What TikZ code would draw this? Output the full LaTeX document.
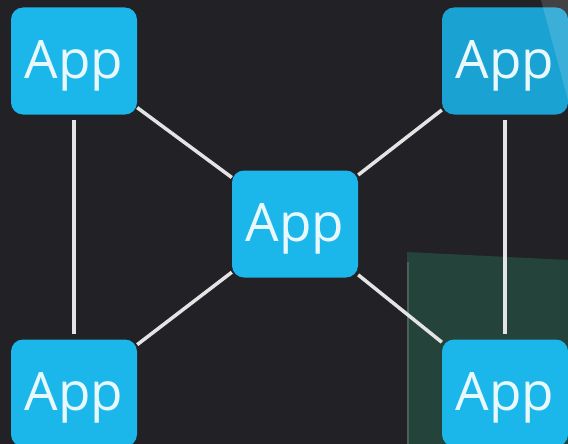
\documentclass[tikz,border=0pt]{standalone}
\usepackage{fontspec}
\setmainfont{Open Sans}
\usepackage{tikz}
\usepackage{xcolor}
\definecolor{bgdark}{HTML}{222125}
\definecolor{appblue}{HTML}{1BB7EB}
\definecolor{appdim}{HTML}{1AA2D3}
\definecolor{linkgray}{HTML}{E4E4E4}
\definecolor{panelgreen}{HTML}{24433A}

\begin{document}
\begin{tikzpicture}[x=1pt,y=-1pt,
  app/.style={rounded corners=12pt,fill=appblue,text=white!90!appblue,
    minimum width=126pt,minimum height=107pt,inner sep=0pt,
    font=\fontsize{53}{60}\selectfont,text height=38pt,text depth=3pt},
  link/.style={draw=linkgray,line width=3.5pt}]
\useasboundingbox (0,0) rectangle (568,444);
\clip (0,0) rectangle (568,444);
\fill[bgdark] (0,0) rectangle (568,444);
% faint panel behind the right column
\fill[panelgreen] (407,252) -- (568,260) -- (568,444) -- (407,444) -- cycle;
\draw[gray!45!panelgreen,line width=2pt] (408,262) -- (408,444);

\node[app] (tl) at (74,61) {App};
\node[app,fill=appdim] (tr) at (505,61) {App};
\node[app] (c) at (295,224) {App};
\node[app] (bl) at (74,393) {App};
\node[app] (br) at (505,393) {App};

\draw[link,shorten <=5pt,shorten >=5pt] (tl) -- (bl);
\draw[link,shorten <=5pt,shorten >=5pt] (tr) -- (br);
\draw[link] (tl) -- (c);
\draw[link] (tr) -- (c);
\draw[link] (bl) -- (c);
\draw[link] (br) -- (c);

\fill[white,opacity=.15] (541,0) -- (568,0) -- (568,100) -- cycle;
\end{tikzpicture}
\end{document}
